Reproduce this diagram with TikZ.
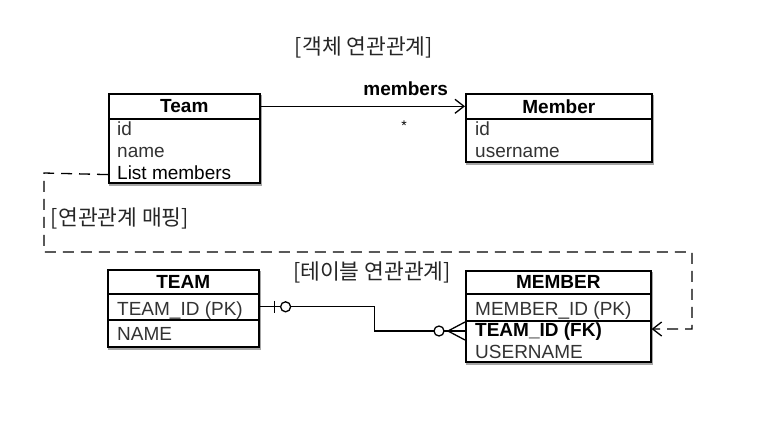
\documentclass[tikz,border=0pt]{standalone}
\usepackage{fontspec}
\setmainfont{Liberation Sans}
\newfontfamily\kr{Noto Sans CJK KR}
\usetikzlibrary{arrows.meta,calc,fit,backgrounds,shadows}
\begin{document}
\begin{tikzpicture}[x=1pt,y=-1pt,
  cell/.style={draw, line width=1.6pt, inner sep=0pt, anchor=north west},
  hdr/.style={font=\fontsize{19}{22}\selectfont\bfseries, inner sep=0pt},
  attr/.style={font=\fontsize{19}{22}\selectfont, text=black!80, inner sep=0pt, anchor=base west},
  attrb/.style={font=\fontsize{19}{22}\selectfont, text=black, inner sep=0pt, anchor=base west},
  krlab/.style={font=\kr\fontsize{21.5}{24}\selectfont, text=black!85, inner sep=0pt},
  shad/.style={inner sep=0pt, fill=white, drop shadow={shadow xshift=1.2pt, shadow yshift=-2pt, opacity=0.35, fill=black}},
  dashline/.style={line width=1.3pt, dash pattern=on 11pt off 7pt},
  barb/.style={-{Straight Barb[length=9pt,width=14pt,line width=1.3pt]}}
]
\useasboundingbox (0,0) rectangle (783,428);

% title labels
\node[krlab] (t1) at (364,47) {[객체 연관관계]};
\node[krlab] (t2) at (120,218) {[연관관계 매핑]};
\node[krlab] (t3) at (372,272) {[테이블 연관관계]};

% Team (object)
\node[cell, minimum width=151pt, minimum height=25pt] (teamh) at (108,93) {};
\node[cell, minimum width=151pt, minimum height=64pt] (teamb) at (108,118) {};
\node[hdr] (teamt) at (teamh) {Team};
\node[attr] (tid) at (117,135) {id};
\node[attr] (tname) at (117,157) {name};
\node[attrb] (tlist) at (117,179) {List members};

% Member (object)
\node[cell, minimum width=186pt, minimum height=25pt] (memh) at (465,93) {};
\node[cell, minimum width=186pt, minimum height=43pt] (memb) at (465,118) {};
\node[hdr] (memt) at (memh) {Member};
\node[attr] (mid) at (475,135) {id};
\node[attr] (muser) at (475,157) {username};

% TEAM table
\node[cell, minimum width=151pt, minimum height=24pt] (TEAMh) at (107,269) {};
\node[cell, minimum width=151pt, minimum height=26pt] (TEAMr1) at (107,293) {};
\node[cell, minimum width=151pt, minimum height=27pt] (TEAMr2) at (107,319) {};
\node[hdr] (TEAMt) at (TEAMh) {TEAM};
\node[attr] (Tid) at (117,315) {TEAM\_ID (PK)};
\node[attr] (Tname) at (117,340) {NAME};

% MEMBER table
\node[cell, minimum width=185pt, minimum height=23pt] (MEMh) at (465,270) {};
\node[cell, minimum width=185pt, minimum height=27pt] (MEMr1) at (465,293) {};
\node[cell, minimum width=185pt, minimum height=41pt] (MEMr2) at (465,320) {};
\node[hdr] (MEMt) at (MEMh) {MEMBER};
\node[attr] (Mid) at (475,315) {MEMBER\_ID (PK)};
\node[attrb, font=\fontsize{19}{22}\selectfont\bfseries] (Mtid) at (475,336) {TEAM\_ID (FK)};
\node[attr] (Muser) at (475,358) {USERNAME};

% shadows
\begin{scope}[on background layer]
\node[shad, fit=(teamh)(teamb)] (teamall) {};
\node[shad, fit=(memh)(memb)] (memall) {};
\node[shad, fit=(TEAMh)(TEAMr2)] (TEAMall) {};
\node[shad, fit=(MEMh)(MEMr2)] (MEMall) {};
\end{scope}

% object association
\draw[barb, line width=1.3pt] (teamh.east) -- (memh.west)
  node[pos=0.71, above=10pt, font=\fontsize{19}{22}\selectfont\bfseries, inner sep=0pt] (mlab) {members};
\node[font=\fontsize{14}{16}\selectfont, inner sep=0pt] (star) at (404,126) {*};

% mapping dashed line
\coordinate (dstart) at ($(teamb.south west)+(0,-9)$);
\coordinate (dend) at ($(MEMr2.north east)+(0,9)$);
\draw[dashline, barb] (dstart) -- (44,173) -- (44,252) -- (692,252) -- (692,329) -- (dend);

% ER relationship
\coordinate (mfk) at ($(MEMr2.north west)+(0,11)$);
\draw[line width=1.3pt] (TEAMr1.east) -- ++(115,0) |- (mfk);
\draw[line width=1.3pt] ($(TEAMr1.east)+(15,-6)$) -- ++(0,12);
\draw[line width=1.3pt, fill=white] ($(TEAMr1.east)+(26,0)$) circle (5);
\draw[line width=1.3pt, fill=white] ($(mfk)+(-26,0)$) circle (5);
\draw[line width=1.3pt] ($(mfk)+(0,-9)$) -- ($(mfk)+(-17,0)$) -- ($(mfk)+(0,9)$);
\end{tikzpicture}
\end{document}
